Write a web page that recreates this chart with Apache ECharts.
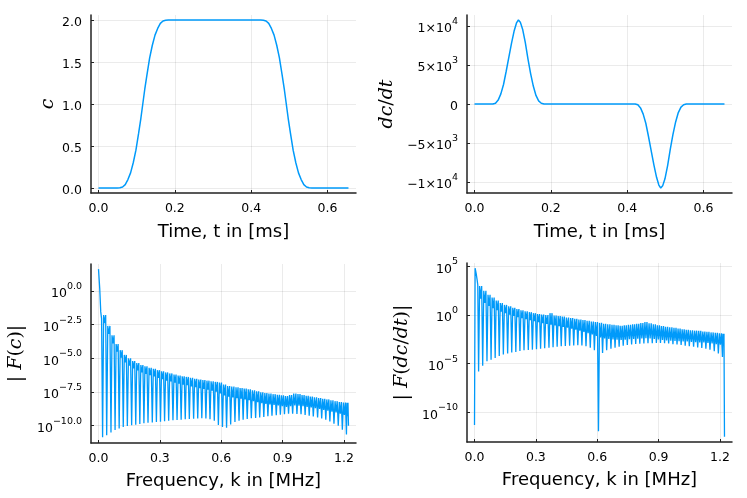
<!DOCTYPE html>
<html>
<head>
<meta charset="utf-8">
<script src="https://cdn.jsdelivr.net/npm/echarts@6.0.0/dist/echarts.min.js"></script>
<style>
  html, body { margin: 0; padding: 0; background: #fff; }
  #chart { width: 747px; height: 498px; }
</style>
</head>
<body>
<div id="chart"></div>
<script>
// ---- time domain: c(t) and dc/dt, t in ms ----
const tC = [0, 0.049, 0.056, 0.063, 0.070, 0.077, 0.084, 0.091, 0.098, 0.105, 0.111,
  0.116, 0.121, 0.127, 0.134, 0.141, 0.148, 0.155, 0.162, 0.169, 0.176, 0.183,
  0.425, 0.432, 0.439, 0.446, 0.453, 0.460, 0.467, 0.474, 0.481, 0.487, 0.492,
  0.497, 0.503, 0.510, 0.517, 0.524, 0.531, 0.538, 0.545, 0.552, 0.559, 0.655];
const cVals = [0, 0, 0.003, 0.012, 0.04, 0.1, 0.18, 0.3, 0.45, 0.65, 0.83,
  1.0, 1.17, 1.35, 1.55, 1.7, 1.82, 1.9, 1.96, 1.988, 1.997, 2.0,
  2.0, 1.997, 1.988, 1.96, 1.9, 1.82, 1.7, 1.55, 1.35, 1.17, 1.0,
  0.83, 0.65, 0.45, 0.3, 0.18, 0.1, 0.04, 0.012, 0.003, 0, 0];

const tD = [0, 0.048, 0.055, 0.062, 0.069, 0.076, 0.083, 0.090, 0.097, 0.104, 0.110,
  0.115, 0.120, 0.126, 0.133, 0.140, 0.147, 0.154, 0.161, 0.168, 0.175, 0.182,
  0.421, 0.428, 0.435, 0.442, 0.449, 0.456, 0.463, 0.470, 0.477, 0.483, 0.488,
  0.493, 0.499, 0.506, 0.513, 0.520, 0.527, 0.534, 0.541, 0.548, 0.555, 0.655];
const dcVals = [0, 0, 100, 500, 1300, 2500, 4200, 6000, 7800, 9400, 10400,
  10770, 10500, 9600, 7900, 5800, 3900, 2300, 1100, 400, 100, 0,
  0, -100, -500, -1300, -2500, -4200, -6000, -7800, -9400, -10400, -10770,
  -10500, -9600, -7900, -5800, -3900, -2300, -1100, -400, -100, 0, 0];

// ---- spectra, k in MHz, values are log10 |F| ----
// frequencies of the visible notches
const kDip = [0.020, 0.040, 0.061, 0.081, 0.101, 0.121, 0.141, 0.162, 0.182, 0.202,
  0.222, 0.242, 0.263, 0.283, 0.303, 0.323, 0.343, 0.364, 0.384, 0.404,
  0.424, 0.444, 0.465, 0.485, 0.505, 0.525, 0.545, 0.566, 0.586, 0.606,
  0.626, 0.646, 0.667, 0.687, 0.707, 0.727, 0.747, 0.768, 0.788, 0.808,
  0.828, 0.848, 0.869, 0.889, 0.909, 0.929, 0.949, 0.970, 0.990, 1.010,
  1.030, 1.050, 1.071, 1.091, 1.111, 1.131, 1.151, 1.172, 1.192, 1.212];
const kEnd = 1.222;

// |F(c)|
const headKc = [0, 0.006, 0.011, 0.015];
const headC = [1.61, 0.17, -1.56, -2.06];
const dipC = [-10.86, -10.7, -10.5, -10.32, -10.2, -10.1, -10.02, -9.97, -9.92, -9.87,
  -9.82, -9.78, -9.76, -9.73, -9.7, -9.66, -9.63, -9.6, -9.57, -9.55,
  -9.52, -9.5, -9.48, -9.46, -9.45, -9.47, -9.52, -9.62, -9.95, -10.1,
  -10.15, -9.9, -9.72, -9.62, -9.55, -9.5, -9.45, -9.42, -9.38, -9.35,
  -9.3, -9.26, -9.22, -9.18, -9.14, -9.1, -9.1, -9.12, -9.15, -9.2,
  -9.26, -9.32, -9.38, -9.46, -9.55, -9.68, -9.85, -10.0, -10.3, -10.65];
const topC = [-1.8, -2.6, -3.3, -3.95, -4.4, -4.75, -5.0, -5.2, -5.35, -5.5,
  -5.6, -5.7, -5.78, -5.88, -5.97, -6.05, -6.12, -6.2, -6.28, -6.33,
  -6.38, -6.45, -6.52, -6.58, -6.62, -6.66, -6.7, -6.75, -6.8, -6.95,
  -7.05, -7.1, -7.15, -7.2, -7.25, -7.3, -7.38, -7.45, -7.52, -7.58,
  -7.62, -7.66, -7.7, -7.75, -7.8, -7.72, -7.62, -7.65, -7.72, -7.78,
  -7.84, -7.9, -7.95, -8.0, -8.05, -8.12, -8.18, -8.24, -8.28, -8.3];
const midC = [-2.4, -3.2, -3.9, -4.5, -4.95, -5.3, -5.55, -5.75, -5.9, -6.05,
  -6.15, -6.25, -6.35, -6.45, -6.55, -6.65, -6.72, -6.8, -6.88, -6.95,
  -7.0, -7.08, -7.15, -7.22, -7.28, -7.33, -7.4, -7.48, -7.6, -7.75,
  -7.85, -7.9, -7.95, -8.0, -8.05, -8.1, -8.18, -8.25, -8.32, -8.38,
  -8.42, -8.46, -8.5, -8.55, -8.6, -8.55, -8.5, -8.52, -8.56, -8.6,
  -8.65, -8.7, -8.76, -8.82, -8.88, -8.95, -9.02, -9.1, -9.2, -9.3];
const endC = -10.0;

// |F(dc/dt)|
const headKd = [0, 0.003, 0.008, 0.013, 0.016];
const headD = [-11.3, 4.83, 4.3, 3.6, 3.1];
const dipD = [-5.8, -5.2, -4.75, -4.6, -4.4, -4.2, -4.05, -3.95, -3.85, -3.78,
  -3.7, -3.62, -3.58, -3.55, -3.5, -3.45, -3.4, -3.35, -3.3, -3.25,
  -3.2, -3.18, -3.15, -3.12, -3.1, -3.12, -3.2, -3.35, -3.6, -11.95,
  -3.9, -3.6, -3.45, -3.35, -3.25, -3.15, -3.08, -3.02, -2.98, -2.95,
  -2.92, -2.9, -2.88, -2.86, -2.86, -2.88, -2.92, -2.98, -3.03, -3.08,
  -3.14, -3.2, -3.26, -3.32, -3.38, -3.45, -3.55, -3.7, -3.95, -4.3];
const topD = [3.0, 2.5, 2.1, 1.8, 1.5, 1.25, 1.05, 0.9, 0.75, 0.62,
  0.5, 0.4, 0.3, 0.2, 0.1, 0.05, 0.0, 0.2, -0.05, -0.1,
  -0.15, -0.25, -0.3, -0.38, -0.45, -0.5, -0.58, -0.65, -0.72, -0.8,
  -0.9, -0.95, -1.0, -1.05, -1.1, -1.05, -1.0, -0.95, -0.9, -0.82,
  -0.72, -0.85, -0.95, -1.05, -1.12, -1.2, -1.25, -1.3, -1.38, -1.45,
  -1.5, -1.55, -1.6, -1.62, -1.68, -1.72, -1.78, -1.82, -1.88, -1.92];
const midD = [1.7, 1.25, 0.95, 0.7, 0.5, 0.35, 0.2, 0.05, -0.08, -0.2,
  -0.32, -0.42, -0.52, -0.62, -0.72, -0.82, -0.9, -0.98, -1.06, -1.14,
  -1.22, -1.3, -1.4, -1.5, -1.6, -1.72, -1.85, -2.0, -2.15, -2.3,
  -2.4, -2.45, -2.5, -2.52, -2.55, -2.52, -2.48, -2.45, -2.42, -2.4,
  -2.38, -2.4, -2.45, -2.5, -2.55, -2.6, -2.62, -2.65, -2.68, -2.7,
  -2.72, -2.75, -2.78, -2.8, -2.82, -2.85, -2.9, -2.98, -3.05, -3.15];
const endD = -12.5;

// tick values
const tTicks = [0, 0.2, 0.4, 0.6];
const kTicks = [0, 0.3, 0.6, 0.9, 1.2];
const cTicks = [0, 0.5, 1.0, 1.5, 2.0];
const dcTicks = [-10000, -5000, 0, 5000, 10000];
const fcTicks = [-10, -7.5, -5, -2.5, 0];
const fdTicks = [-10, -5, 0, 5];

const SANS = 'DejaVu Sans';
const SERIF = 'DejaVu Serif';
const BLUE = '#009afa';
const MINUS = '\u2212';

function pairs(xs, ys) {
  return xs.map((x, i) => [x, ys[i]]);
}

// notch pattern: notch, band top, band bottom, band top, next notch ...
function spikes(headK, headV, dipV, topV, midV, endV) {
  const pts = pairs(headK, headV);
  kDip.forEach((k, i) => {
    const next = i + 1 < kDip.length ? kDip[i + 1] : kEnd;
    const p = next - k;
    pts.push([k, dipV[i]], [k + 0.25 * p, topV[i]], [k + 0.5 * p, midV[i]], [k + 0.75 * p, topV[i]]);
  });
  pts.push([kEnd, endV]);
  return pts;
}

const richLabel = {
  b: { fontFamily: SANS, fontSize: 12.5, color: '#000', lineHeight: 19, verticalAlign: 'bottom' },
  s: { fontFamily: SANS, fontSize: 9.5, color: '#000', verticalAlign: 'top' }
};
const richName = {
  i: { fontFamily: SERIF, fontStyle: 'italic', fontSize: 19, color: '#000' },
  r: { fontFamily: SERIF, fontSize: 19, color: '#000' }
};

function xAxis(gi, min, max, ticks, name, gap) {
  return {
    type: 'value', gridIndex: gi, min: min, max: max,
    name: name, nameLocation: 'middle', nameGap: gap,
    nameTextStyle: { fontFamily: SANS, fontSize: 18, color: '#000' },
    axisLine: { show: true, onZero: false, lineStyle: { color: '#222', width: 1.5 } },
    axisTick: { show: true, inside: true, length: 3, customValues: ticks, lineStyle: { color: '#222' } },
    axisLabel: { customValues: ticks, formatter: v => v.toFixed(1), fontFamily: SANS, fontSize: 12.5, color: '#000', margin: 9 },
    splitLine: { show: true, lineStyle: { color: 'rgba(0,0,0,0.08)', width: 1 } }
  };
}

function yAxis(gi, min, max, ticks, fmt, name, gap) {
  return {
    type: 'value', gridIndex: gi, min: min, max: max,
    name: name, nameLocation: 'middle', nameGap: gap, nameRotate: 90,
    nameTextStyle: { rich: richName },
    axisLine: { show: true, onZero: false, lineStyle: { color: '#222', width: 1.5 } },
    axisTick: { show: true, inside: true, length: 3, customValues: ticks, lineStyle: { color: '#222' } },
    axisLabel: { customValues: ticks, formatter: fmt, fontFamily: SANS, fontSize: 12.5, color: '#000', margin: 9, rich: richLabel },
    splitLine: { show: true, lineStyle: { color: 'rgba(0,0,0,0.08)', width: 1 } }
  };
}

function sci(v) {
  if (v === 0) return '{b|0}';
  const sign = v < 0 ? MINUS : '';
  const e = Math.floor(Math.log10(Math.abs(v)));
  const m = Math.round(Math.abs(v) / Math.pow(10, e));
  return '{b|' + sign + m + '\u00d710}{s|' + e + '}';
}
function pow1(v) {
  return '{b|10}{s|' + v.toFixed(1).replace('-', MINUS) + '}';
}
function pow0(v) {
  return '{b|10}{s|' + String(v).replace('-', MINUS) + '}';
}

function line(xi, pts, w) {
  return {
    type: 'line', xAxisIndex: xi, yAxisIndex: xi, data: pts,
    showSymbol: false, lineStyle: { color: BLUE, width: w }, itemStyle: { color: BLUE }
  };
}

const chart = echarts.init(document.getElementById('chart'), null, { renderer: 'canvas' });
chart.setOption({
  animation: false,
  backgroundColor: '#fff',
  grid: [
    { left: 91, top: 15, width: 265, height: 178 },
    { left: 467, top: 15, width: 265, height: 178 },
    { left: 91, top: 264, width: 265, height: 179 },
    { left: 467, top: 263, width: 265, height: 179 }
  ],
  xAxis: [
    xAxis(0, -0.0197, 0.6747, tTicks, 'Time, t in [ms]', 30),
    xAxis(1, -0.0197, 0.6747, tTicks, 'Time, t in [ms]', 30),
    xAxis(2, -0.0367, 1.2587, kTicks, 'Frequency, k in [MHz]', 29),
    xAxis(3, -0.0367, 1.2587, kTicks, 'Frequency, k in [MHz]', 29)
  ],
  yAxis: [
    yAxis(0, -0.06, 2.06, cTicks, v => '{b|' + v.toFixed(1) + '}', '{i|c}', 33),
    yAxis(1, -11416, 11416, dcTicks, sci, '{i|dc}{r|/}{i|dt}', 70),
    yAxis(2, -11.28, 1.99, fcTicks, pow1, '{r|| }{i|F}{r|(}{i|c}{r|)|}', 65),
    yAxis(3, -13.05, 5.36, fdTicks, pow0, '{r|| }{i|F}{r|(}{i|dc}{r|/}{i|dt}{r|)|}', 55)
  ],
  series: [
    line(0, pairs(tC, cVals), 1.5),
    line(1, pairs(tD, dcVals), 1.5),
    line(2, spikes(headKc, headC, dipC, topC, midC, endC), 1.3),
    line(3, spikes(headKd, headD, dipD, topD, midD, endD), 1.3)
  ]
});
</script>
</body>
</html>
